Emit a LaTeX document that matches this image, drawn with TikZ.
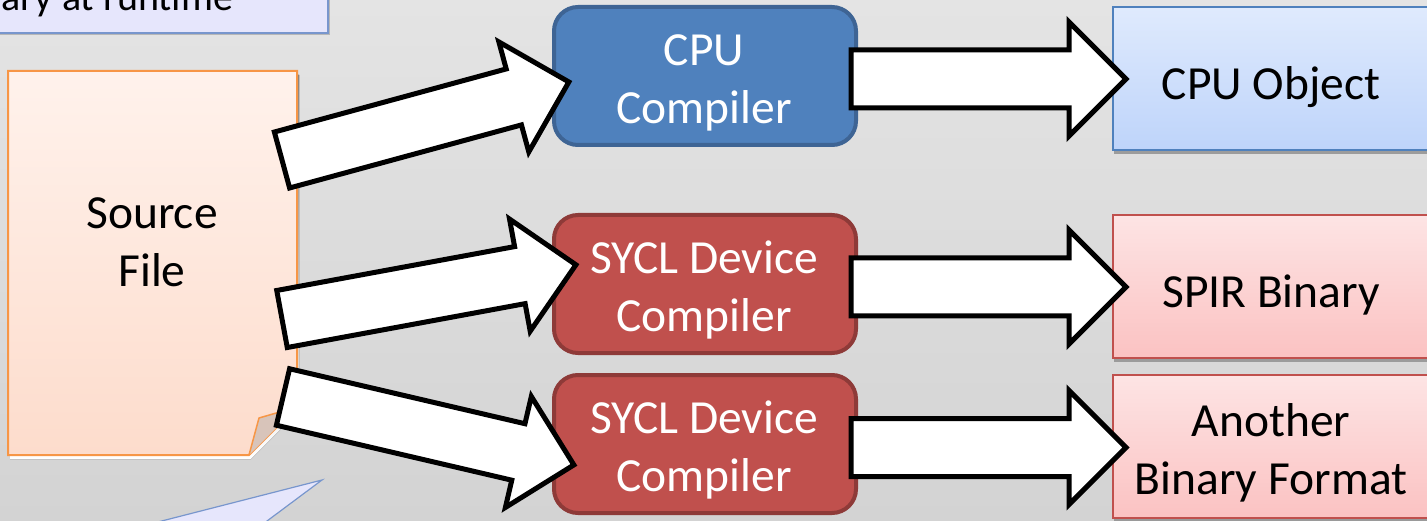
\documentclass[tikz,border=0pt]{standalone}
\usepackage{fontspec}
\setmainfont{Carlito}
\usetikzlibrary{shapes.arrows,calc,shadows}

\definecolor{bgtop}{RGB}{228,228,228}
\definecolor{bgbot}{RGB}{211,211,211}
\definecolor{noteFill}{RGB}{230,230,252}
\definecolor{noteLine}{RGB}{120,150,205}
\definecolor{srcTop}{RGB}{255,242,236}
\definecolor{srcBot}{RGB}{253,220,204}
\definecolor{srcLine}{RGB}{247,150,70}
\definecolor{foldFill}{RGB}{216,196,186}
\definecolor{cpuFill}{RGB}{79,129,189}
\definecolor{cpuLine}{RGB}{62,100,148}
\definecolor{syclFill}{RGB}{192,80,77}
\definecolor{syclLine}{RGB}{142,58,56}
\definecolor{objTop}{RGB}{223,234,253}
\definecolor{objBot}{RGB}{190,212,250}
\definecolor{objLine}{RGB}{79,129,189}
\definecolor{binTop}{RGB}{253,228,228}
\definecolor{binBot}{RGB}{251,194,194}
\definecolor{binLine}{RGB}{192,80,77}
\definecolor{shade}{RGB}{140,140,140}

% block arrow between two named points, tail at the first one
\newcommand\blockarrow[3]{%
  \path let \p1=(#2), \p2=(#3),
            \n1={atan2(\y2-\y1,\x2-\x1)},
            \n2={veclen(\x2-\x1,\y2-\y1)} in
    (\p1) node[fatarrow, anchor=tail, rotate=\n1, minimum height=\n2+4pt] (#1) {};}

\begin{document}
\begin{tikzpicture}[x=1pt,y=-1pt,
  every node/.style={inner sep=0pt, outer sep=0pt},
  lbl/.style={font=\fontsize{47.5}{58}\selectfont, align=center, anchor=base},
  compbox/.style={rectangle, rounded corners=24pt, line width=4pt,
    minimum width=302pt, minimum height=138pt},
  cpubox/.style={compbox, fill=cpuFill, draw=cpuLine},
  syclbox/.style={compbox, fill=syclFill, draw=syclLine},
  outbox/.style={rectangle, line width=1.5pt, minimum width=316pt, minimum height=143pt,
    drop shadow={shadow xshift=1pt, shadow yshift=-4pt, fill=shade, opacity=0.8}},
  objbox/.style={outbox, top color=objTop, bottom color=objBot, draw=objLine},
  binbox/.style={outbox, top color=binTop, bottom color=binBot, draw=binLine},
  fatarrow/.style={single arrow, draw=black, fill=white, line width=5pt,
    inner xsep=0pt, inner ysep=26.5pt, minimum width=110pt,
    single arrow head extend=28pt, single arrow tip angle=90}]

% page and background
\useasboundingbox (0,0) rectangle (1427,521);
\clip (0,0) rectangle (1427,521);
\fill[top color=bgtop, bottom color=bgbot] (0,0) rectangle (1427,521);

% note box at the top left and the callout tail at the bottom
\node[draw=noteLine, fill=noteFill, line width=1.2pt, minimum width=338pt, minimum height=63pt,
  drop shadow={shadow xshift=2pt, shadow yshift=-2pt, fill=shade, opacity=0.5}]
  (note) at (159,1.5) {};
\node[font=\fontsize{40}{48}\selectfont, anchor=base east] (noteTxt) at (233,11) {ary at runtime};
\filldraw[fill=noteFill, draw=noteLine, line width=1.2pt]
  (322,480) -- (150,524) -- (263,524) -- cycle;

% source file (folded page)
\node[minimum width=289pt, minimum height=384pt] (src) at (152.5,263) {};
\fill[shade] ($(src.north west)+(2,4)$) -- ($(src.north east)+(2,4)$)
  -- ($(src.south east)+(2,-44)$) -- ($(src.south east)+(-46,4)$)
  -- ($(src.south west)+(2,4)$) -- cycle;
\filldraw[draw=srcLine, top color=srcTop, bottom color=srcBot, line width=2pt]
  (src.north west) -- (src.north east) -- ($(src.south east)+(0,-48)$)
  -- ($(src.south east)+(-48,0)$) -- (src.south west) -- cycle;
\filldraw[draw=srcLine, fill=foldFill, line width=1.5pt, line join=round]
  ($(src.south east)+(-48,0)$) -- ($(src.south east)+(-38,-37)$)
  -- ($(src.south east)+(0,-48)$);
\node[lbl] (srcTxt) at (152,287) {Source\\File};

% compilers
\node[cpubox]  (cpu)   at (705,76)  {};
\node[syclbox] (sycl1) at (705,284) {};
\node[syclbox] (sycl2) at (705,444) {};
\node[lbl, text=white] (cpuTxt)   at (704,124) {CPU\\Compiler};
\node[lbl, text=white] (sycl1Txt) at (704,331) {SYCL Device\\Compiler};
\node[lbl, text=white] (sycl2Txt) at (704,491) {SYCL Device\\Compiler};

% outputs
\node[objbox] (obj)  at (1271,78.5)  {};
\node[binbox] (spir) at (1271,286.5) {};
\node[binbox] (oth)  at (1271,446.5) {};
\node[lbl] (objTxt)  at (1271,100) {CPU Object};
\node[lbl] (spirTxt) at (1271,308) {SPIR Binary};
\node[lbl] (othTxt)  at (1271,494) {Another\\Binary Format};

% arrow end points
\coordinate (s1) at (282,160);   \coordinate (e1) at (565,83);
\coordinate (s2) at (282,319);   \coordinate (e2) at (572,265.5);
\coordinate (s3) at (283,397);   \coordinate (e3) at (570,464);
\coordinate (s4) at (851,79);    \coordinate (e4) at (1122,79);
\coordinate (s5) at (851,287);   \coordinate (e5) at (1122,287);
\coordinate (s6) at (851,447.5); \coordinate (e6) at (1122,447.5);

% source -> compilers
\blockarrow{srcToCpu}{s1}{e1}
\blockarrow{srcToSycl1}{s2}{e2}
\blockarrow{srcToSycl2}{s3}{e3}
% compilers -> outputs
\blockarrow{cpuToObj}{s4}{e4}
\blockarrow{sycl1ToSpir}{s5}{e5}
\blockarrow{sycl2ToOth}{s6}{e6}
\end{tikzpicture}
\end{document}
